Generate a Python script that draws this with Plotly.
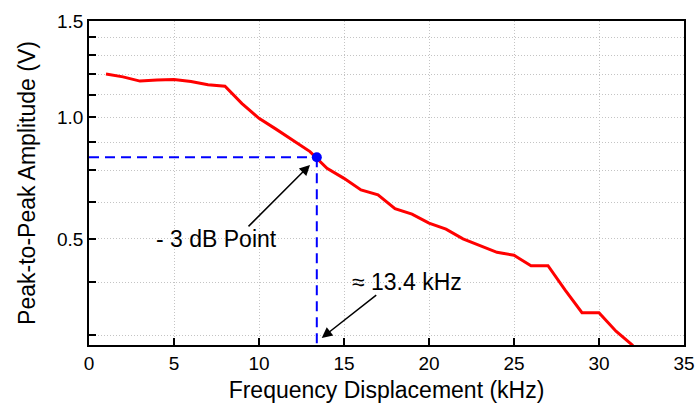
import math
import plotly.graph_objects as go

# Data
freq_khz = list(range(1, 33))
amplitude_v = [1.20, 1.186, 1.165, 1.171, 1.173, 1.163, 1.147, 1.14, 1.06, 0.996,
               0.952, 0.909, 0.866, 0.807, 0.774, 0.737, 0.722, 0.681, 0.666, 0.641,
               0.625, 0.600, 0.583, 0.567, 0.560, 0.536, 0.536, 0.484, 0.440, 0.440,
               0.407, 0.383]
point_x = [13.4]
point_y = [0.846]
y_bottom = 0.38
x_ticks = [0, 5, 10, 15, 20, 25, 30, 35]
y_tickvals = [0.4, 0.5, 0.6, 0.7, 0.8, 0.9, 1.0, 1.1, 1.2, 1.3, 1.4, 1.5]
y_ticktext = ["", "", "0.5", "", "", "", "1.0", "", "", "", "", "1.5"]

FONT = "Liberation Sans, Arial, Helvetica, sans-serif"

fig = go.Figure()
fig.add_trace(go.Scatter(x=freq_khz, y=amplitude_v, mode="lines",
                         line=dict(color="#ff0000", width=3), showlegend=False))
fig.add_trace(go.Scatter(x=[0, point_x[0]], y=[point_y[0], point_y[0]], mode="lines",
                         line=dict(color="#0000ff", width=2, dash="10px,6px"), showlegend=False))
fig.add_trace(go.Scatter(x=[point_x[0], point_x[0]], y=[point_y[0], y_bottom], mode="lines",
                         line=dict(color="#0000ff", width=2, dash="10px,6px"), showlegend=False))
fig.add_trace(go.Scatter(x=point_x, y=point_y, mode="markers",
                         marker=dict(color="#0000ff", size=10), showlegend=False))

fig.add_annotation(x=13.0, y=math.log10(0.819), xref="x", yref="y", text="",
                   showarrow=True, ax=-63, ay=63, arrowhead=2, arrowsize=1.4,
                   arrowwidth=1.5, arrowcolor="black")
fig.add_annotation(x=13.69, y=math.log10(0.3956), xref="x", yref="y", text="",
                   showarrow=True, ax=56, ay=-44, arrowhead=2, arrowsize=1.4,
                   arrowwidth=1.5, arrowcolor="black")
fig.add_annotation(x=7.51, y=math.log10(0.60), xref="x", yref="y", text="- 3 dB Point",
                   showarrow=False, xanchor="center", yanchor="middle",
                   font=dict(family=FONT, size=23, color="black"))
fig.add_annotation(x=18.7, y=math.log10(0.50), xref="x", yref="y", text="≈ 13.4 kHz",
                   showarrow=False, xanchor="center", yanchor="middle",
                   font=dict(family=FONT, size=23, color="black"))

fig.update_layout(
    width=695, height=403,
    margin=dict(l=89, r=11, t=21, b=58, autoexpand=False),
    paper_bgcolor="white", plot_bgcolor="white",
    font=dict(family=FONT, color="black"),
    xaxis=dict(range=[0, 35], tickvals=x_ticks, ticks="inside", ticklen=7, tickwidth=1.5,
               tickcolor="black", showline=True, linecolor="black", linewidth=1.5,
               mirror=True, showgrid=True, gridcolor="#c4c4c4", griddash="1px,2px",
               gridwidth=1, zeroline=False, tickfont=dict(size=19), automargin=False,
               title=dict(text="Frequency Displacement (kHz)", font=dict(size=23))),
    yaxis=dict(type="log", range=[math.log10(0.384), math.log10(1.5)],
               tickvals=y_tickvals, ticktext=y_ticktext, ticks="inside", ticklen=7,
               tickwidth=1.5, tickcolor="black", showline=True, linecolor="black",
               linewidth=1.5, mirror=True, showgrid=True, gridcolor="#c4c4c4",
               griddash="1px,2px", gridwidth=1, zeroline=False, tickfont=dict(size=19),
               automargin=False,
               title=dict(text="Peak-to-Peak Amplitude (V)", font=dict(size=23))),
)

fig.write_html("out.html")
